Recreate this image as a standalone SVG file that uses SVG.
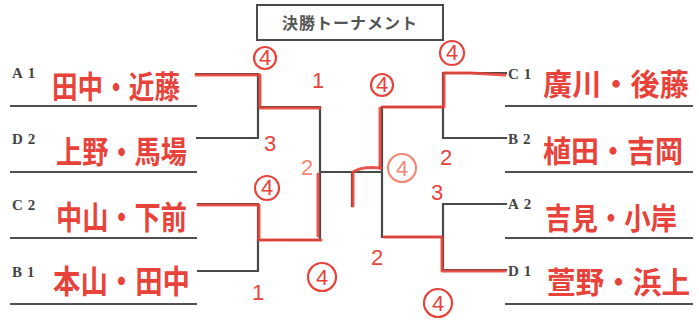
<svg xmlns="http://www.w3.org/2000/svg" width="699" height="320" viewBox="0 0 699 320">
<defs>
<style>
.ln{fill:none;stroke:#4a4a4a;stroke-width:2.2}
.ul{fill:none;stroke:#505050;stroke-width:2}
.rd{fill:none;stroke:#e8433b;stroke-width:3;stroke-linecap:round;stroke-linejoin:round;opacity:0.9}
.lbl{font-family:"Liberation Serif",serif;font-weight:bold;font-size:15px;fill:#444;letter-spacing:5px}
.nm{font-family:"Noto Sans CJK JP",sans-serif;font-weight:bold;fill:#e8433b}
.sc{font-family:"Liberation Sans",sans-serif;fill:#e8433b;font-size:22px;text-anchor:middle}
.cir{fill:none;stroke:#e8433b;stroke-width:2.2}
.lt{fill:#f08a78}
.ltc{stroke:#f08a78}
</style>
</defs>
<rect width="699" height="320" fill="#ffffff"/>
<g id="title">
<rect x="257" y="5" width="186" height="35" fill="#fff" stroke="#4a4a4a" stroke-width="2"/>
<text x="350" y="29" font-family="'Noto Sans CJK JP',sans-serif" font-weight="bold" font-size="16" fill="#555" text-anchor="middle" letter-spacing="1">決勝トーナメント</text>
</g>
<g id="underlines">
<path class="ul" d="M10 106H197M10 172H197M10 238H197M10 304H197"/>
<path class="ul" d="M505 106H693M505 172H693M505 238H693M505 304H693"/>
</g>
<g id="connectors">
<path class="ln" d="M195 74H258V138H196"/>
<path class="ln" d="M258 107H320V240H258"/>
<path class="ln" d="M197 204H258V271H197"/>
<path class="ln" d="M320 172H382M352 172V207"/>
<path class="ln" d="M443 107H382V237H443"/>
<path class="ln" d="M507 73H443V138H507"/>
<path class="ln" d="M507 204H443V270H507"/>
<path class="rd" d="M196 75H260V108H320"/>
<path class="rd" d="M198 205H259V240H321"/>
<path class="rd" d="M318 174V236"/>
<path class="rd" d="M353 206V172Q362 166 381 168"/>
<path class="rd" d="M505 75L470 73H444V107H383"/>
<path class="rd" d="M380 108V168"/>
<path class="rd" d="M505 271H442V237H384"/>
</g>
<g id="A1"><text class="lbl" x="12" y="78">A1</text><text class="nm" x="52" y="98" font-size="31" textLength="128" lengthAdjust="spacingAndGlyphs">田中・近藤</text></g>
<g id="D2"><text class="lbl" x="12" y="144">D2</text><text class="nm" x="56" y="163" font-size="31" textLength="131" lengthAdjust="spacingAndGlyphs">上野・馬場</text></g>
<g id="C2"><text class="lbl" x="12" y="210">C2</text><text class="nm" x="56" y="229" font-size="32" textLength="131" lengthAdjust="spacingAndGlyphs">中山・下前</text></g>
<g id="B1"><text class="lbl" x="12" y="277">B1</text><text class="nm" x="53" y="293" font-size="32" textLength="137" lengthAdjust="spacingAndGlyphs">本山・田中</text></g>
<g id="C1"><text class="lbl" x="508" y="79">C1</text><text class="nm" x="543" y="95" font-size="30" textLength="146" lengthAdjust="spacingAndGlyphs">廣川・後藤</text></g>
<g id="B2"><text class="lbl" x="508" y="144">B2</text><text class="nm" x="543" y="162" font-size="30" textLength="140" lengthAdjust="spacingAndGlyphs">植田・吉岡</text></g>
<g id="A2"><text class="lbl" x="508" y="209">A2</text><text class="nm" x="545" y="229" font-size="30" textLength="132" lengthAdjust="spacingAndGlyphs">吉見・小岸</text></g>
<g id="D1"><text class="lbl" x="508" y="276">D1</text><text class="nm" x="547" y="293" font-size="30" textLength="143" lengthAdjust="spacingAndGlyphs">萱野・浜上</text></g>
<g id="scores">
<circle class="cir" cx="265" cy="58" r="11"/><text class="sc" x="265" y="65" font-size="18">4</text>
<text class="sc" x="318" y="88" font-size="24">1</text>
<text class="sc" x="270" y="151">3</text>
<text class="sc lt" x="307" y="175">2</text>
<circle class="cir" cx="267" cy="188" r="12"/><text class="sc" x="267" y="195" font-size="19">4</text>
<circle class="cir" cx="322" cy="277" r="14"/><text class="sc" x="322" y="285" font-size="21">4</text>
<text class="sc" x="258" y="300" font-size="18">1</text>
<circle class="cir" cx="452" cy="53" r="12"/><text class="sc" x="452" y="60" font-size="19">4</text>
<circle class="cir" cx="382" cy="85" r="11"/><text class="sc" x="382" y="92" font-size="18">4</text>
<circle class="cir ltc" cx="402" cy="168" r="14"/><text class="sc lt" x="402" y="176" font-size="21">4</text>
<text class="sc" x="446" y="165">2</text>
<text class="sc" x="437" y="200">3</text>
<text class="sc" x="377" y="265">2</text>
<circle class="cir" cx="438" cy="303" r="14"/><text class="sc" x="438" y="311" font-size="21">4</text>
</g>
</svg>
